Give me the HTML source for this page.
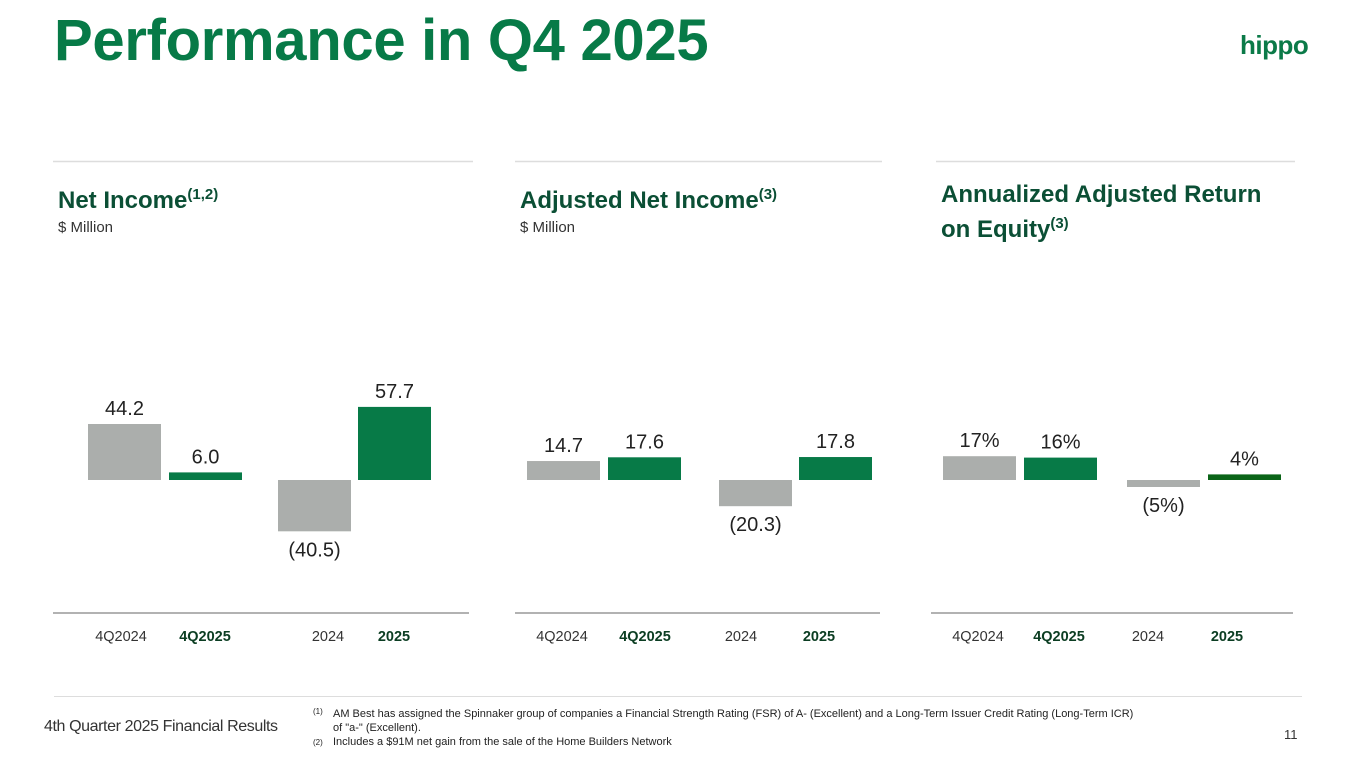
<!DOCTYPE html>
<html><head><meta charset="utf-8">
<style>
body{margin:0;width:1365px;height:768px;background:#fff;font-family:"Liberation Sans",sans-serif;position:relative;overflow:hidden}
.abs{position:absolute}
#title{left:54px;top:7px;font-size:58px;font-weight:bold;color:#077a47;letter-spacing:-0.3px}
#logo{left:1240px;top:30px;font-size:26px;font-weight:bold;color:#0b7a48;letter-spacing:-0.5px}
.ct{font-size:24px;font-weight:bold;color:#0b4f35;line-height:30px}
.ct sup{font-size:15px}
.unit{font-size:15px;color:#333}
.fn{font-size:11px;color:#222;line-height:14px}
</style></head><body>
<div class="abs" id="title">Performance in Q4 2025</div>
<div class="abs" id="logo">hippo</div>

<div class="abs ct" style="left:58px;top:180px">Net Income<sup>(1,2)</sup></div>
<div class="abs unit" style="left:58px;top:219px">$ Million</div>
<div class="abs ct" style="left:520px;top:180px">Adjusted Net Income<sup>(3)</sup></div>
<div class="abs unit" style="left:520px;top:219px">$ Million</div>
<div class="abs ct" style="left:941px;top:180px;line-height:29px">Annualized Adjusted Return<br>on Equity<sup>(3)</sup></div>

<svg id="chart" class="abs" style="left:0;top:0" width="1365" height="768"></svg>

<div class="abs" style="left:54px;top:696px;width:1248px;height:1px;background:#ddd"></div>
<div class="abs" style="left:44px;top:718px;font-size:16px;color:#333;letter-spacing:-0.4px">4th Quarter 2025 Financial Results</div>
<div class="abs fn" style="left:313px;top:707px;width:830px">
<div style="position:relative;padding-left:20px"><span style="position:absolute;left:0;top:-2px;font-size:8px">(1)</span>AM Best has assigned the Spinnaker group of companies a Financial Strength Rating (FSR) of A- (Excellent) and a Long-Term Issuer Credit Rating (Long-Term ICR) of "a-" (Excellent).</div>
<div style="position:relative;padding-left:20px"><span style="position:absolute;left:0;top:1px;font-size:8px">(2)</span>Includes a $91M net gain from the sale of the Home Builders Network</div>
</div>
<div class="abs" style="left:1284px;top:727px;font-size:13px;color:#333">11</div>

<script>
const categories=["4Q2024","4Q2025","2024","2025"];
const netIncome=[44.2,6.0,-40.5,57.7];
const netIncomeLabels=["44.2","6.0","(40.5)","57.7"];
const adjNetIncome=[14.7,17.6,-20.3,17.8];
const adjNetIncomeLabels=["14.7","17.6","(20.3)","17.8"];
const roe=[17,16,-5,4];
const roeLabels=["17%","16%","(5%)","4%"];

const svg=document.getElementById('chart');
const NS='http://www.w3.org/2000/svg';
function mk(t,a){const e=document.createElementNS(NS,t);for(const k in a)e.setAttribute(k,a[k]);svg.appendChild(e);return e;}
const charts=[
 {vals:netIncome,labels:netIncomeLabels,x:[88,169,278,358],scale:1.267,top:[53,473],axis:[53,469],cat:[121,205,328,394],colors:['#abaeac','#077a47','#abaeac','#077a47'],name:'net-income'},
 {vals:adjNetIncome,labels:adjNetIncomeLabels,x:[527,608,719,799],scale:1.29,top:[515,882],axis:[515,880],cat:[562,645,741,819],colors:['#abaeac','#077a47','#abaeac','#077a47'],name:'adjusted-net-income'},
 {vals:roe,labels:roeLabels,x:[943,1024,1127,1208],scale:1.4,top:[936,1295],axis:[931,1293],cat:[978,1059,1148,1227],colors:['#abaeac','#077a47','#abaeac','#0b6418'],name:'roe'}
];
const base=480,bw=73;
charts.forEach(c=>{
 const y=v=>base-v*c.scale;
 let l=mk('line',{x1:c.top[0],x2:c.top[1],y1:161.5,y2:161.5,stroke:'#ddd','stroke-width':1.5});
 
 
 let a=mk('line',{x1:c.axis[0],x2:c.axis[1],y1:613,y2:613,stroke:'#999','stroke-width':1.5});
 
 
 c.vals.forEach((v,i)=>{
  const y0=Math.min(y(v),base),h=Math.abs(y(v)-base);
  const r=mk('rect',{x:c.x[i],y:y0,width:bw,height:h,fill:c.colors[i]});
  
  
  const t=mk('text',{x:c.x[i]+bw/2,y:v>=0?y(v)-9:y(v)+25,'text-anchor':'middle','font-size':20,fill:'#222'});
  t.textContent=c.labels[i];
  
  
  const ct=mk('text',{x:c.cat[i],y:641,'text-anchor':'middle','font-size':14.5,fill:i%2?'#0b3d22':'#333','font-weight':i%2?'bold':'normal'});
  ct.textContent=categories[i];
  
  
 });
});
</script>
</body></html>
